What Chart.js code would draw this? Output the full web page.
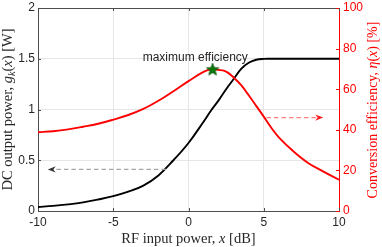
<!DOCTYPE html>
<html>
<head>
<meta charset="utf-8">
<script src="https://cdn.jsdelivr.net/npm/chart.js@4.4.0/dist/chart.umd.min.js"></script>
<style>
  html, body { margin: 0; padding: 0; background: #fff; }
</style>
</head>
<body>
<canvas id="chart" width="382" height="247"></canvas>
<script>
// RF input power [dB]
const inputPower = [-10, -9, -8, -7, -6, -5, -4, -3, -2, -1, 0, 1, 1.5, 2, 2.5, 3, 3.5, 4, 4.5, 5, 5.5, 6, 7, 8, 9, 10];
// DC output power g_k(x) [W]
const dcPower = [0.04, 0.05, 0.065, 0.085, 0.113, 0.146, 0.19, 0.25, 0.35, 0.5, 0.67, 0.88, 0.99, 1.09, 1.2, 1.3, 1.4, 1.46, 1.49, 1.499, 1.5, 1.5, 1.5, 1.5, 1.5, 1.5];
// conversion efficiency eta(x) [%]
const efficiency = [38.8, 39.3, 40.2, 41.5, 43, 45, 47.3, 50.3, 54.3, 59, 64, 68.5, 69.8, 69.5, 68.7, 65.8, 62, 57, 51.8, 46.5, 41, 36.3, 29.2, 23.4, 19.3, 15.4];

// max efficiency marker + label
const peakPoint = [1.6, 69.8];
const peakLabel = "maximum efficiency";
const peakLabelPos = [0.45, 75.7];

// dashed arrows pointing at the axis each curve belongs to
const arrowAxis = ["y", "y1"];
const arrowY = [0.41, 46];
const arrowStart = [-1.5, 5.18];
const arrowEnd = [-9.35, 8.95];

const serif = '"Liberation Serif", "Times New Roman", serif';
const sans = '"Liberation Sans", Arial, sans-serif';

// titles with italic math bits
const xTitle = [["RF input power, "], ["x", "i"], [" [dB]"]];
const yTitle = [["DC output power, "], ["g", "i"], ["k", "is"], ["("], ["x", "i"], [") [W]"]];
const y1Title = [["Conversion efficiency, "], ["\u03b7", "i"], ["("], ["x", "i"], [") [%]"]];

function drawRich(ctx, segs, size, color) {
  const fontOf = (s) => (s[1] && s[1].includes("i") ? "italic " : "") +
    (s[1] && s[1].includes("s") ? size * 0.7 : size) + "px " + serif;
  let total = 0;
  segs.forEach((s) => { ctx.font = fontOf(s); total += ctx.measureText(s[0]).width; });
  let x = -total / 2;
  ctx.fillStyle = color;
  ctx.textBaseline = "middle";
  ctx.textAlign = "left";
  segs.forEach((s) => {
    ctx.font = fontOf(s);
    const dy = s[1] && s[1].includes("s") ? size * 0.25 : 0;
    ctx.fillText(s[0], x, dy);
    x += ctx.measureText(s[0]).width;
  });
}

// filled green star for the peak
const star = document.createElement("canvas");
star.width = 14; star.height = 14;
(function () {
  const c = star.getContext("2d");
  c.beginPath();
  for (let i = 0; i < 10; i++) {
    const r = i % 2 === 0 ? 6.5 : 2.7;
    const a = -Math.PI / 2 + i * Math.PI / 5;
    c.lineTo(7 + r * Math.cos(a), 7.5 + r * Math.sin(a));
  }
  c.closePath();
  c.fillStyle = "#0b7a0b";
  c.fill();
  c.strokeStyle = "#005000";
  c.lineWidth = 0.8;
  c.stroke();
})();

const extras = {
  id: "extras",
  afterDatasetsDraw(chart) {
    const ctx = chart.ctx;
    const a = chart.chartArea;
    const sx = chart.scales.x;
    ctx.save();
    // top border
    ctx.strokeStyle = "#4d4d4d";
    ctx.lineWidth = 1;
    ctx.beginPath();
    ctx.moveTo(a.left, a.top + 0.5);
    ctx.lineTo(a.right, a.top + 0.5);
    ctx.stroke();
    // inward ticks
    sx.ticks.forEach((t) => {
      const p = Math.round(sx.getPixelForValue(t.value)) + 0.5;
      ctx.beginPath();
      ctx.moveTo(p, a.bottom); ctx.lineTo(p, a.bottom - 3);
      ctx.moveTo(p, a.top); ctx.lineTo(p, a.top + 3);
      ctx.stroke();
    });
    chart.scales.y.ticks.forEach((t) => {
      const p = Math.round(chart.scales.y.getPixelForValue(t.value)) + 0.5;
      ctx.beginPath();
      ctx.moveTo(a.left, p); ctx.lineTo(a.left + 3, p);
      ctx.stroke();
    });
    ctx.strokeStyle = "#ff0000";
    chart.scales.y1.ticks.forEach((t) => {
      const p = Math.round(chart.scales.y1.getPixelForValue(t.value)) + 0.5;
      ctx.beginPath();
      ctx.moveTo(a.right, p); ctx.lineTo(a.right - 3, p);
      ctx.stroke();
    });

    // dashed arrows
    const lineCols = ["#a6a6a6", "#ff8080"];
    const headCols = ["#333333", "#ff1a1a"];
    arrowY.forEach((yv, i) => {
      const py = chart.scales[arrowAxis[i]].getPixelForValue(yv);
      const x0 = sx.getPixelForValue(arrowStart[i]);
      const x1 = sx.getPixelForValue(arrowEnd[i]);
      const dir = Math.sign(x1 - x0);
      ctx.strokeStyle = lineCols[i];
      ctx.lineWidth = 1.3;
      ctx.setLineDash([4.5, 3]);
      ctx.beginPath();
      ctx.moveTo(x0, py);
      ctx.lineTo(x1 - dir * 4, py);
      ctx.stroke();
      ctx.setLineDash([]);
      ctx.fillStyle = headCols[i];
      ctx.beginPath();
      ctx.moveTo(x1, py);
      ctx.lineTo(x1 - dir * 8, py - 3.2);
      ctx.lineTo(x1 - dir * 5.5, py);
      ctx.lineTo(x1 - dir * 8, py + 3.2);
      ctx.closePath();
      ctx.fill();
    });

    // label above the peak
    ctx.fillStyle = "#262626";
    ctx.font = "12px " + sans;
    ctx.textAlign = "center";
    ctx.textBaseline = "middle";
    ctx.fillText(peakLabel, sx.getPixelForValue(peakLabelPos[0]), chart.scales.y1.getPixelForValue(peakLabelPos[1]));

    // axis titles
    ctx.save();
    ctx.translate((a.left + a.right) / 2, 239);
    drawRich(ctx, xTitle, 14.5, "#262626");
    ctx.restore();
    ctx.save();
    ctx.translate(8.5, (a.top + a.bottom) / 2);
    ctx.rotate(-Math.PI / 2);
    drawRich(ctx, yTitle, 14.5, "#262626");
    ctx.restore();
    ctx.save();
    ctx.translate(373, 110);
    ctx.rotate(-Math.PI / 2);
    drawRich(ctx, y1Title, 14, "#ff0000");
    ctx.restore();
    ctx.restore();
  },
};

const tickFont = { family: sans, size: 12 };
const plainNum = (v) => String(v);

new Chart(document.getElementById("chart"), {
  type: "line",
  data: {
    datasets: [
      {
        label: "peak",
        data: [{ x: peakPoint[0], y: peakPoint[1] }],
        yAxisID: "y1",
        showLine: false,
        pointStyle: star,
        pointRadius: 7,
        order: 0,
      },
      {
        label: "Conversion efficiency",
        data: inputPower.map((x, i) => ({ x: x, y: efficiency[i] })),
        yAxisID: "y1",
        borderColor: "#ff0000",
        borderWidth: 1.9,
        pointRadius: 0,
        tension: 0.4,
        order: 1,
      },
      {
        label: "DC output power",
        data: inputPower.map((x, i) => ({ x: x, y: dcPower[i] })),
        yAxisID: "y",
        borderColor: "#000000",
        borderWidth: 1.9,
        pointRadius: 0,
        tension: 0.4,
        order: 2,
      },
    ],
  },
  options: {
    responsive: false,
    animation: false,
    layout: { padding: { top: 5, left: 0, right: 0, bottom: 0 } },
    plugins: { legend: { display: false }, tooltip: { enabled: false } },
    scales: {
      x: {
        type: "linear",
        min: -10,
        max: 10,
        ticks: { stepSize: 5, font: tickFont, color: "#262626", padding: 4, maxRotation: 0, callback: plainNum },
        grid: { color: "#e6e6e6", drawTicks: false },
        border: { color: "#4d4d4d" },
        afterFit(s) { s.height = 36; s.paddingLeft = 0; s.paddingRight = 0; },
      },
      y: {
        position: "left",
        min: 0,
        max: 2,
        ticks: { stepSize: 0.5, font: tickFont, color: "#262626", padding: 3, callback: plainNum },
        grid: { color: "#e6e6e6", drawTicks: false },
        border: { color: "#4d4d4d" },
        afterFit(s) { s.width = 38; s.paddingTop = 0; s.paddingBottom = 0; },
      },
      y1: {
        position: "right",
        min: 0,
        max: 100,
        ticks: { stepSize: 20, font: tickFont, color: "#ff0000", padding: 4, callback: plainNum },
        grid: { drawOnChartArea: false, drawTicks: false },
        border: { color: "#ff0000" },
        afterFit(s) { s.width = 43; s.paddingTop = 0; s.paddingBottom = 0; },
      },
    },
  },
  plugins: [extras],
});
</script>
</body>
</html>
